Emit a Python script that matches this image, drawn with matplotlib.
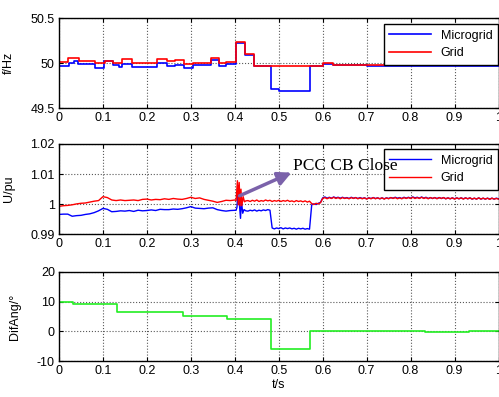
import numpy as np
import matplotlib
matplotlib.use("Agg")
import matplotlib.pyplot as plt

plt.rcParams['font.family'] = ['Liberation Sans', 'DejaVu Sans']

# ---------------- data ----------------
# Frequency (step changes)
f_grid_t = [0, 0.021, 0.045, 0.083, 0.104, 0.124, 0.144, 0.165, 0.224, 0.245, 0.264,
            0.285, 0.304, 0.345, 0.365, 0.380, 0.402, 0.424, 0.443, 0.600, 0.623, 0.700, 1.0]
f_grid_v = [50.01, 50.055, 50.03, 50.0, 50.025, 50.0, 50.045, 50.005, 50.045, 50.03, 50.035,
            49.997, 50.005, 50.055, 49.998, 50.01, 50.235, 50.105, 49.97, 50.0, 49.985, 49.975, 49.975]

f_micro_t = [0, 0.0235, 0.033, 0.044, 0.082, 0.103, 0.124, 0.137, 0.144, 0.165, 0.224, 0.245,
             0.264, 0.285, 0.304, 0.345, 0.365, 0.380, 0.402, 0.424, 0.443, 0.483, 0.500,
             0.5705, 0.600, 0.623, 0.700, 1.0]
f_micro_v = [49.97, 50.0, 50.03, 49.99, 49.95, 50.02, 49.985, 49.955, 49.995, 49.958, 50.0, 49.97,
             49.985, 49.945, 49.98, 50.035, 49.965, 49.99, 50.22, 50.09, 49.965, 49.71, 49.695,
             49.965, 49.995, 49.98, 49.972, 49.972]

# Voltage
u_tA = np.round(np.linspace(0, 0.40, 41), 3)
u_grid_A = [0.9993, 0.9995, 0.9996, 0.9998, 1.0001, 1.0003, 1.0004, 1.0007, 1.0010, 1.0012,
            1.0025, 1.0022, 1.0014, 1.0012, 1.0014, 1.0012, 1.0013, 1.0014, 1.0012, 1.0016,
            1.0017, 1.0014, 1.0016, 1.0015, 1.0018, 1.0016, 1.0019, 1.0017, 1.0016, 1.0019,
            1.0023, 1.0019, 1.0021, 1.0016, 1.0013, 1.0010, 1.0006, 1.0009, 1.0013, 1.0012,
            1.0014]
u_micro_A = [0.9966, 0.9967, 0.9967, 0.9960, 0.9962, 0.9963, 0.9966, 0.9968, 0.9972, 0.9978,
             0.9986, 0.9983, 0.9975, 0.9976, 0.9978, 0.9977, 0.9979, 0.9976, 0.9980, 0.9978,
             0.9979, 0.9981, 0.9979, 0.9983, 0.9982, 0.9982, 0.9984, 0.9983, 0.9985, 0.9988,
             0.9992, 0.9987, 0.9986, 0.9985, 0.9987, 0.9988, 0.9982, 0.9979, 0.9977, 0.9979,
             0.9980]

u_grid_tB = [0.403, 0.406, 0.408, 0.410, 0.412, 0.414, 0.416, 0.419, 0.422, 0.425]
u_grid_B = [1.0012, 1.0078, 0.9998, 1.0072, 0.9995, 1.0050, 0.9995, 1.0025, 1.0008, 1.0011]
u_micro_tB = [0.403, 0.405, 0.408, 0.411, 0.413, 0.415, 0.418, 0.421, 0.425]
u_micro_B = [0.9980, 0.9990, 1.0062, 0.9990, 0.9953, 1.0012, 0.9970, 0.9982, 0.9978]

u_tC = np.round(np.linspace(0.43, 1.0, 115), 3)
u_grid_C = [1.0012, 1.0009, 1.0013, 1.0010, 1.0014, 1.0009, 1.0012, 1.0010, 1.0014, 1.0011,
            1.0013, 1.0009, 1.0012, 1.0010, 1.0013, 1.0009, 1.0012, 1.0010, 1.0013, 1.0009,
            1.0011, 1.0008, 1.0012, 1.0009, 1.0011, 1.0008, 1.0011, 1.0007, 1.0010,
            1.0002, 0.9999, 1.0003, 1.0001, 1.0005,
            1.0019, 1.0022, 1.0018, 1.0022, 1.0019, 1.0023, 1.0019, 1.0022, 1.0018, 1.0022,
            1.0019, 1.0021, 1.0018, 1.0022, 1.0019, 1.0022, 1.0018, 1.0021, 1.0018, 1.0021,
            1.0017, 1.0021, 1.0018, 1.0022, 1.0018, 1.0021, 1.0018, 1.0021, 1.0017, 1.0021,
            1.0018, 1.0022, 1.0019, 1.0022, 1.0018, 1.0021, 1.0018, 1.0022, 1.0019, 1.0022,
            1.0019, 1.0023, 1.0019, 1.0022, 1.0019, 1.0023, 1.0019, 1.0022, 1.0018, 1.0022,
            1.0019, 1.0022, 1.0018, 1.0022, 1.0019, 1.0022, 1.0018, 1.0021, 1.0018, 1.0021,
            1.0017, 1.0021, 1.0018, 1.0021, 1.0017, 1.0021, 1.0018, 1.0021, 1.0017, 1.0020,
            1.0017, 1.0021, 1.0017, 1.0020, 1.0017, 1.0020, 1.0016, 1.0020, 1.0017, 1.0019,
            1.0017]
u_micro_C = [0.9977, 0.9980, 0.9978, 0.9981, 0.9977, 0.9980, 0.9978, 0.9981, 0.9979, 0.9982,
             0.9980,
             0.9921, 0.9918, 0.9921, 0.9919, 0.9922, 0.9918, 0.9921, 0.9919, 0.9921, 0.9918,
             0.9920, 0.9917, 0.9920, 0.9918, 0.9920, 0.9917, 0.9919, 0.9917,
             0.9998, 1.0001, 0.9999, 1.0003, 1.0006,
             1.0021, 1.0024, 1.0020, 1.0023, 1.0020, 1.0024, 1.0021, 1.0023, 1.0020, 1.0023,
             1.0020, 1.0022, 1.0019, 1.0023, 1.0020, 1.0022, 1.0019, 1.0022, 1.0019, 1.0021,
             1.0018, 1.0021, 1.0019, 1.0022, 1.0019, 1.0021, 1.0018, 1.0021, 1.0018, 1.0021,
             1.0019, 1.0022, 1.0020, 1.0023, 1.0020, 1.0022, 1.0019, 1.0023, 1.0020, 1.0023,
             1.0020, 1.0024, 1.0021, 1.0023, 1.0020, 1.0024, 1.0020, 1.0023, 1.0019, 1.0022,
             1.0019, 1.0022, 1.0019, 1.0022, 1.0019, 1.0022, 1.0018, 1.0021, 1.0018, 1.0021,
             1.0018, 1.0021, 1.0018, 1.0021, 1.0018, 1.0021, 1.0018, 1.0021, 1.0017, 1.0020,
             1.0017, 1.0021, 1.0017, 1.0020, 1.0017, 1.0020, 1.0017, 1.0020, 1.0017, 1.0020,
             1.0018]

# Phase angle difference
ang_t = [0, 0.0326, 0.133, 0.283, 0.383, 0.483, 0.570, 0.833, 0.932, 1.0]
ang_v = [10.0, 9.1, 6.5, 5.0, 4.2, -5.8, 0.0, -0.3, 0.0, 0.0]

x_ticks = [0, 0.1, 0.2, 0.3, 0.4, 0.5, 0.6, 0.7, 0.8, 0.9, 1]
x_labels = ['0', '0.1', '0.2', '0.3', '0.4', '0.5', '0.6', '0.7', '0.8', '0.9', '1']

# ---------------- figure ----------------
W, H = 499, 397
fig = plt.figure(figsize=(W / 100, H / 100), dpi=100)

def ax_rect(left, top, right, bottom):
    return [left / W, 1 - bottom / H, (right - left) / W, (bottom - top) / H]

ax1 = fig.add_axes(ax_rect(59, 18.3, 498.5, 108.2))
ax2 = fig.add_axes(ax_rect(59, 144.0, 498.5, 234.3))
ax3 = fig.add_axes(ax_rect(59, 271.7, 498.5, 361.2))

def style(ax):
    ax.set_xlim(0, 1)
    ax.set_xticks(x_ticks)
    ax.set_xticklabels(x_labels)
    ax.tick_params(direction='in', top=True, right=True, length=3, width=0.8,
                   labelsize=9, pad=3, colors='black')
    ax.grid(True, color='0.35', linestyle=':', linewidth=0.8)
    for s in ax.spines.values():
        s.set_linewidth(1.0)
        s.set_color('black')

# Frequency
ax1.plot(f_micro_t, f_micro_v, color='blue', lw=1.2, drawstyle='steps-post', label='Microgrid')
ax1.plot(f_grid_t, f_grid_v, color='red', lw=1.2, drawstyle='steps-post', label='Grid')
style(ax1)
ax1.set_ylim(49.5, 50.5)
ax1.set_yticks([49.5, 50, 50.5])
ax1.set_yticklabels(['49.5', '50', '50.5'])
ax1.set_ylabel('f/Hz', fontsize=9)
ax1.yaxis.set_label_coords(-0.1, 0.5)
leg1 = ax1.legend(loc='upper right', bbox_to_anchor=(0.999, 0.936), borderaxespad=0,
                  fontsize=9, fancybox=False, edgecolor='black', framealpha=1,
                  handlelength=3.3, handletextpad=0.8, borderpad=0.45, labelspacing=0.45)
leg1.get_frame().set_linewidth(1.0)

# Voltage
u_t_grid = list(u_tA) + u_grid_tB + list(u_tC)
u_v_grid = u_grid_A + u_grid_B + u_grid_C
u_t_micro = list(u_tA) + u_micro_tB + list(u_tC)
u_v_micro = u_micro_A + u_micro_B + u_micro_C
ax2.plot(u_t_micro, u_v_micro, color='blue', lw=1.0, label='Microgrid')
ax2.plot(u_t_grid, u_v_grid, color='red', lw=1.0, label='Grid')
style(ax2)
ax2.set_ylim(0.99, 1.02)
ax2.set_yticks([0.99, 1.0, 1.01, 1.02])
ax2.set_yticklabels(['0.99', '1', '1.01', '1.02'])
ax2.set_ylabel('U/pu', fontsize=9)
ax2.yaxis.set_label_coords(-0.1, 0.5)
leg2 = ax2.legend(loc='upper right', bbox_to_anchor=(0.999, 0.945), borderaxespad=0,
                  fontsize=9, fancybox=False, edgecolor='black', framealpha=1,
                  handlelength=3.3, handletextpad=0.8, borderpad=0.45, labelspacing=0.45)
leg2.get_frame().set_linewidth(1.0)
ax2.annotate('', xy=(0.529, 1.0105), xytext=(0.411, 1.0028),
             arrowprops=dict(arrowstyle='-|>', color='#7B62AA', lw=2.5,
                             mutation_scale=20, shrinkA=0, shrinkB=0), zorder=10)
ax2.text(0.5325, 1.0128, 'PCC CB Close', fontsize=12.5, family=['Liberation Serif'],
         ha='left', va='center', zorder=11)

# Angle difference
ax3.plot(ang_t, ang_v, color='#22ee22', lw=1.2, drawstyle='steps-post')
style(ax3)
ax3.set_ylim(-10, 20)
ax3.set_yticks([-10, 0, 10, 20])
ax3.set_yticklabels(['-10', '0', '10', '20'])
ax3.set_ylabel('DifAng/°', fontsize=9)
ax3.yaxis.set_label_coords(-0.0865, 0.5)
ax3.set_xlabel('t/s', fontsize=9, labelpad=1)

fig.savefig('out.png', dpi=100)
